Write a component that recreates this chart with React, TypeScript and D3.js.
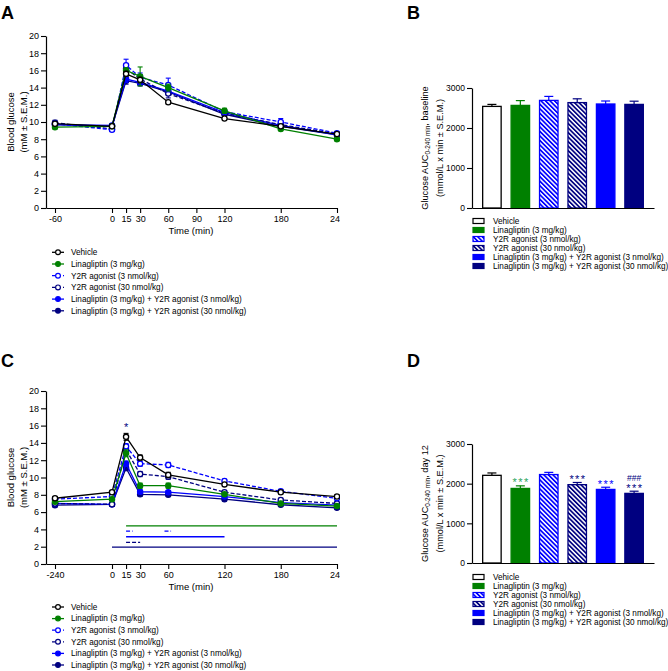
import React, { useEffect, useRef } from 'react';
import * as d3 from 'd3';

const FONT = 'Liberation Sans, Arial, Helvetica, sans-serif';

const groupNames = [
  'Vehicle',
  'Linagliptin (3 mg/kg)',
  'Y2R agonist (3 nmol/kg)',
  'Y2R agonist (30 nmol/kg)',
  'Linagliptin (3 mg/kg) + Y2R agonist (3 nmol/kg)',
  'Linagliptin (3 mg/kg) + Y2R agonist (30 nmol/kg)',
];

// time axes
const timesBaseline = [-60, 0, 15, 30, 60, 120, 180, 240];
const timesDay12 = [-240, 0, 15, 30, 60, 120, 180, 240];
const ticksBaseline = [-60, 0, 15, 30, 60, 90, 120, 180, 240];
const ticksDay12 = [-240, 0, 15, 30, 60, 120, 180, 240];
const glucoseTicks = [0, 2, 4, 6, 8, 10, 12, 14, 16, 18, 20];
const aucTicks = [0, 1000, 2000, 3000];

// blood glucose, baseline OGTT (panel A), one row per group
const glucoseBaseline = [
  [9.8, 9.5, 15.6, 14.9, 12.3, 10.4, 9.5, 8.6],
  [9.4, 9.5, 16.0, 15.3, 14.0, 11.3, 9.2, 8.0],
  [9.8, 9.1, 16.6, 15.2, 14.3, 11.2, 10.0, 8.7],
  [9.9, 9.2, 16.2, 15.0, 13.3, 11.0, 9.7, 8.6],
  [9.7, 9.6, 15.0, 14.6, 13.6, 11.1, 9.6, 8.5],
  [9.7, 9.5, 14.8, 14.5, 13.5, 10.9, 9.5, 8.5],
];
const semBaseline = [
  [0.2, 0.2, 0.3, 0.3, 0.2, 0.2, 0.2, 0.2],
  [0.2, 0.2, 0.3, 1.1, 0.4, 0.3, 0.2, 0.2],
  [0.2, 0.2, 0.7, 0.5, 0.8, 0.3, 0.4, 0.2],
  [0.3, 0.2, 0.5, 0.5, 0.5, 0.3, 0.3, 0.2],
  [0.2, 0.2, 0.4, 0.3, 0.4, 0.3, 0.2, 0.2],
  [0.3, 0.2, 0.4, 0.3, 0.3, 0.3, 0.2, 0.2],
];

// blood glucose, day 12 OGTT (panel C)
const glucoseDay12 = [
  [7.6, 8.3, 14.7, 12.3, 10.3, 9.2, 8.3, 7.8],
  [7.2, 7.5, 12.8, 9.05, 9.05, 8.05, 7.0, 6.7],
  [7.5, 7.8, 13.6, 11.6, 11.45, 9.6, 8.4, 7.6],
  [7.0, 6.9, 13.2, 10.4, 10.1, 8.3, 7.4, 7.0],
  [7.0, 6.9, 11.6, 8.35, 8.3, 7.8, 7.1, 6.8],
  [6.8, 6.9, 11.1, 8.05, 8.0, 7.5, 6.85, 6.5],
];
const semDay12 = [
  [0.2, 0.2, 0.4, 0.3, 0.3, 0.2, 0.2, 0.2],
  [0.2, 0.2, 0.4, 0.3, 0.3, 0.2, 0.2, 0.2],
  [0.2, 0.2, 0.3, 0.3, 0.3, 0.2, 0.2, 0.2],
  [0.2, 0.2, 0.3, 0.3, 0.3, 0.2, 0.2, 0.2],
  [0.2, 0.2, 0.3, 0.2, 0.2, 0.2, 0.2, 0.2],
  [0.2, 0.2, 0.3, 0.2, 0.2, 0.2, 0.2, 0.2],
];

// significance lines under the day 12 curves
const sigGroup = [1, 2, 2, 4, 3, 5];
const sigFrom = [15, 15, 56, 15, 15, 0];
const sigTo = [240, 22, 63, 120, 30, 240];
const sigLevel = [4.4, 3.8, 3.8, 3.15, 2.5, 1.95];

// AUC bars
const aucBaseline = [2540, 2565, 2690, 2635, 2600, 2590];
const aucBaselineSem = [50, 120, 100, 95, 75, 80];
const aucDay12 = [2210, 1880, 2230, 1975, 1855, 1755];
const aucDay12Sem = [60, 65, 55, 55, 55, 55];
const aucDay12Stars = ['', '***', '', '***', '***', '***'];
const aucDay12Hash = ['', '', '', '', '', '###'];

const seriesColors = ['#000000', '#008000', '#0000ff', '#000080', '#0000ff', '#000080'];
const seriesDashed = [false, false, true, true, false, false];
const seriesOpen = [true, false, true, true, false, false];
const barFills = ['#ffffff', '#008000', 'url(#hatch-blue)', 'url(#hatch-navy)', '#0000ff', '#000080'];
const starColors = ['#000000', '#2aa35c', '#0000ff', '#000080', '#0000ff', '#000080'];

function panelLetter(svg, letter, x, y) {
  svg.append('text').attr('x', x).attr('y', y).text(letter)
    .attr('font-family', FONT).attr('font-size', 18).attr('font-weight', 'bold');
}

function drawTimeCourse(svg, o) {
  const g = svg.append('g').attr('clip-path', `url(#${o.clipId})`);
  const first = o.times[0];
  const x = d3.scaleLinear().domain([first * 7 / 6, first, 0, 240]).range([46, 55, 112, 337]);
  const y = d3.scaleLinear().domain([0, 20]).range([o.bottom, o.top]);

  const xa = g.append('g').attr('transform', `translate(0,${o.bottom})`)
    .call(d3.axisBottom(x).tickValues(o.ticks).tickSize(5).tickSizeOuter(0).tickFormat(d => String(d)));
  const ya = g.append('g').attr('transform', 'translate(46,0)')
    .call(d3.axisLeft(y).tickValues(glucoseTicks).tickSize(5).tickSizeOuter(0).tickPadding(2));
  [xa, ya].forEach(a => {
    a.attr('font-family', FONT).attr('font-size', 9);
    a.select('.domain').attr('stroke-width', 1.2);
    a.selectAll('line').attr('stroke-width', 1.1);
  });

  g.append('text').attr('x', 191).attr('y', o.bottom + 25.5).attr('text-anchor', 'middle')
    .attr('font-family', FONT).attr('font-size', 9.5).text('Time (min)');
  const cy = (o.top + o.bottom) / 2;
  g.append('text').attr('transform', `translate(13.5,${cy}) rotate(-90)`).attr('text-anchor', 'middle')
    .attr('font-family', FONT).attr('font-size', 9.5).text('Blood glucose');
  g.append('text').attr('transform', `translate(26.5,${cy}) rotate(-90)`).attr('text-anchor', 'middle')
    .attr('font-family', FONT).attr('font-size', 9.5).text('(mM ± S.E.M.)');

  // significance lines
  if (o.sig) {
    sigGroup.forEach((gi, k) => {
      g.append('line')
        .attr('x1', x(sigFrom[k])).attr('x2', x(sigTo[k]))
        .attr('y1', y(sigLevel[k])).attr('y2', y(sigLevel[k]))
        .attr('stroke', seriesColors[gi]).attr('stroke-width', 1.3)
        .attr('stroke-dasharray', seriesDashed[gi] ? '4,2' : null);
    });
    g.append('text').attr('x', x(15)).attr('y', y(16.1) + 6).attr('text-anchor', 'middle')
      .attr('font-family', FONT).attr('font-size', 11).attr('fill', '#000080').text('*');
  }

  const line = d3.line().x((d, j) => x(o.times[j])).y(d => y(d));
  const order = [5, 4, 3, 2, 1, 0];
  order.forEach(i => {
    const c = seriesColors[i];
    g.append('path').datum(o.values[i]).attr('d', line).attr('fill', 'none')
      .attr('stroke', c).attr('stroke-width', 1.3)
      .attr('stroke-dasharray', seriesDashed[i] ? '4,2' : null);
    const pts = g.append('g');
    o.values[i].forEach((v, j) => {
      const px = x(o.times[j]);
      const s = o.sems[i][j];
      pts.append('line').attr('x1', px).attr('x2', px).attr('y1', y(v - s)).attr('y2', y(v + s))
        .attr('stroke', c).attr('stroke-width', 1.1);
      [v - s, v + s].forEach(e => {
        pts.append('line').attr('x1', px - 2.5).attr('x2', px + 2.5).attr('y1', y(e)).attr('y2', y(e))
          .attr('stroke', c).attr('stroke-width', 1.1);
      });
      pts.append('circle').attr('cx', px).attr('cy', y(v)).attr('r', 2.6)
        .attr('fill', seriesOpen[i] ? '#ffffff' : c).attr('stroke', c).attr('stroke-width', 1.3);
    });
  });

  // legend
  groupNames.forEach((name, i) => {
    const ly = o.legendTop + i * o.legendStep;
    const c = seriesColors[i];
    g.append('line').attr('x1', 52).attr('x2', 64).attr('y1', ly).attr('y2', ly)
      .attr('stroke', c).attr('stroke-width', 1.3)
      .attr('stroke-dasharray', seriesDashed[i] ? '3,2.5' : null);
    g.append('circle').attr('cx', 58).attr('cy', ly).attr('r', 2.4)
      .attr('fill', seriesOpen[i] ? '#ffffff' : c).attr('stroke', c).attr('stroke-width', 1.2);
    g.append('text').attr('x', 71).attr('y', ly).attr('dy', '0.35em')
      .attr('font-family', FONT).attr('font-size', 8.2).text(name);
  });
}

function drawAuc(svg, o) {
  const g = svg.append('g');
  const x = d3.scaleBand().domain(groupNames).range([472, 654]).paddingInner(0.35).paddingOuter(0.375);
  const y = d3.scaleLinear().domain([0, 3000]).range([o.bottom, o.top]);

  o.values.forEach((v, i) => {
    const bx = x(groupNames[i]);
    const bw = x.bandwidth();
    const c = seriesColors[i];
    const top = y(v + o.sems[i]);
    g.append('line').attr('x1', bx + bw / 2).attr('x2', bx + bw / 2).attr('y1', y(v)).attr('y2', top)
      .attr('stroke', c).attr('stroke-width', 1.2);
    g.append('line').attr('x1', bx + bw / 2 - 4.5).attr('x2', bx + bw / 2 + 4.5).attr('y1', top).attr('y2', top)
      .attr('stroke', c).attr('stroke-width', 1.2);
    g.append('rect').attr('x', bx).attr('y', y(v)).attr('width', bw).attr('height', o.bottom - y(v))
      .attr('fill', barFills[i]).attr('stroke', c).attr('stroke-width', 1.3);
    if (o.stars && o.stars[i]) {
      g.append('text').attr('x', bx + bw / 2 + 0.7).attr('y', top + 0.5).attr('text-anchor', 'middle')
        .attr('font-family', FONT).attr('font-size', 11).attr('letter-spacing', 1.4)
        .attr('fill', starColors[i]).text(o.stars[i]);
    }
    if (o.hashes && o.hashes[i]) {
      g.append('text').attr('x', bx + bw / 2).attr('y', top - 10).attr('text-anchor', 'middle')
        .attr('font-family', FONT).attr('font-size', 8.5).attr('fill', starColors[i]).text(o.hashes[i]);
    }
  });

  const ya = g.append('g').attr('transform', 'translate(472,0)')
    .call(d3.axisLeft(y).tickValues(aucTicks).tickSize(5).tickSizeOuter(0).tickPadding(2).tickFormat(d => String(d)));
  const xa = g.append('g').attr('transform', `translate(0,${o.bottom})`)
    .call(d3.axisBottom(x).tickSize(0).tickSizeOuter(0).tickFormat(() => ''));
  [xa, ya].forEach(a => {
    a.attr('font-family', FONT).attr('font-size', 8.5);
    a.select('.domain').attr('stroke-width', 1.2);
    a.selectAll('line').attr('stroke-width', 1.1);
  });

  const cy = (o.top + o.bottom) / 2;
  const t1 = g.append('text').attr('transform', `translate(428,${cy}) rotate(-90)`).attr('text-anchor', 'middle')
    .attr('font-family', FONT).attr('font-size', 9.2);
  t1.append('tspan').text('Glucose AUC');
  t1.append('tspan').attr('font-size', 6.5).attr('dy', 2).text('0-240 min');
  t1.append('tspan').attr('dy', -2).text(o.titleEnd);
  g.append('text').attr('transform', `translate(443,${cy}) rotate(-90)`).attr('text-anchor', 'middle')
    .attr('font-family', FONT).attr('font-size', 9.2).text('(mmol/L x min ± S.E.M.)');

  groupNames.forEach((name, i) => {
    const ly = o.legendTop + i * 9;
    g.append('rect').attr('x', 473).attr('y', ly - 2.5).attr('width', 11).attr('height', 5)
      .attr('fill', barFills[i]).attr('stroke', seriesColors[i]).attr('stroke-width', 1.2);
    g.append('text').attr('x', 493).attr('y', ly).attr('dy', '0.35em')
      .attr('font-family', FONT).attr('font-size', 8.2).text(name);
  });
}

const App = () => {
  const svgRef = useRef(null);

  useEffect(() => {
    if (!svgRef.current) return;
    const svg = d3.select(svgRef.current);
    svg.selectAll('*').remove();

    const defs = svg.append('defs');
    [['hatch-blue', '#0000ff'], ['hatch-navy', '#000080']].forEach(([id, c]) => {
      const p = defs.append('pattern').attr('id', id).attr('patternUnits', 'userSpaceOnUse')
        .attr('width', 3.2).attr('height', 3.2).attr('patternTransform', 'rotate(-45)');
      p.append('rect').attr('width', 3.2).attr('height', 3.2).attr('fill', '#ffffff');
      p.append('rect').attr('width', 1.7).attr('height', 3.2).attr('fill', c);
    });
    defs.append('clipPath').attr('id', 'clip-a').append('rect').attr('x', 0).attr('y', 0).attr('width', 340).attr('height', 340);
    defs.append('clipPath').attr('id', 'clip-c').append('rect').attr('x', 0).attr('y', 340).attr('width', 340).attr('height', 331);

    svg.append('rect').attr('width', 668).attr('height', 671).attr('fill', '#ffffff');

    drawTimeCourse(svg, {
      clipId: 'clip-a', times: timesBaseline, ticks: ticksBaseline,
      values: glucoseBaseline, sems: semBaseline, top: 36, bottom: 208,
      legendTop: 252.3, legendStep: 11.7, sig: false,
    });
    drawTimeCourse(svg, {
      clipId: 'clip-c', times: timesDay12, ticks: ticksDay12,
      values: glucoseDay12, sems: semDay12, top: 391, bottom: 564,
      legendTop: 607, legendStep: 11.6, sig: true,
    });
    drawAuc(svg, {
      values: aucBaseline, sems: aucBaselineSem, top: 88, bottom: 208,
      titleEnd: ', baseline', legendTop: 221,
    });
    drawAuc(svg, {
      values: aucDay12, sems: aucDay12Sem, top: 444, bottom: 563,
      titleEnd: ', day 12', legendTop: 577, stars: aucDay12Stars, hashes: aucDay12Hash,
    });

    panelLetter(svg, 'A', 1, 19);
    panelLetter(svg, 'B', 407, 19);
    panelLetter(svg, 'C', 1, 367);
    panelLetter(svg, 'D', 407, 367);
  }, []);

  return (
    <svg ref={svgRef} width={668} height={671}
      style={{ position: 'absolute', left: 0, top: 0, display: 'block' }} />
  );
};

export default App;
